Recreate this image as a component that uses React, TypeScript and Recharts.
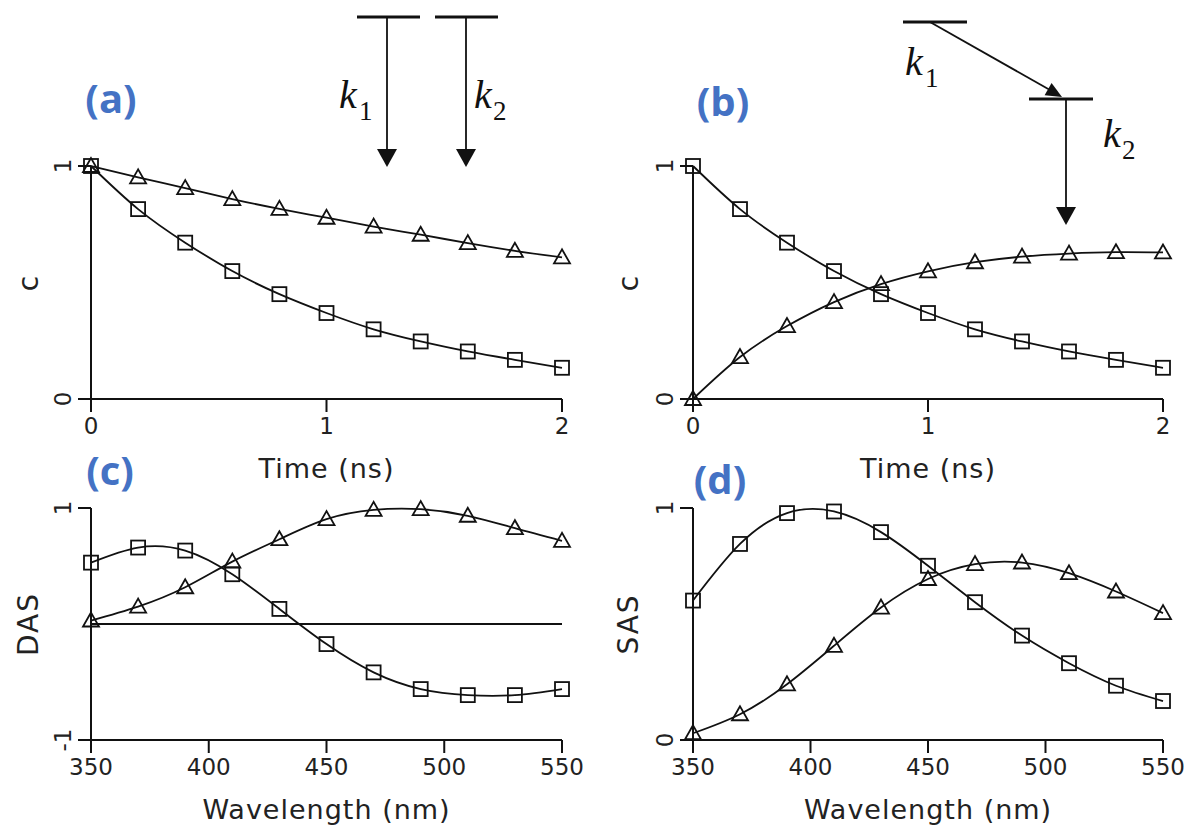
import { LineChart, Line, XAxis, YAxis, ReferenceLine } from "recharts";

// time axis (ns) for panels (a) and (b)
const times = [0, 0.2, 0.4, 0.6, 0.8, 1.0, 1.2, 1.4, 1.6, 1.8, 2.0];
// wavelength axis (nm) for panels (c) and (d)
const wavelengths = [350, 370, 390, 410, 430, 450, 470, 490, 510, 530, 550];

// (a) parallel decay concentrations
const aSquare = [1.0, 0.815, 0.671, 0.549, 0.45, 0.369, 0.299, 0.247, 0.204, 0.168, 0.134];
const aTriangle = [1.0, 0.951, 0.905, 0.858, 0.816, 0.778, 0.74, 0.705, 0.669, 0.636, 0.608];

// (b) sequential decay concentrations
const bSquare = [1.0, 0.815, 0.671, 0.549, 0.45, 0.369, 0.299, 0.247, 0.204, 0.168, 0.134];
const bTriangle = [0.0, 0.18, 0.313, 0.416, 0.493, 0.548, 0.587, 0.611, 0.624, 0.63, 0.629];

// (c) DAS
const cSquare = [0.529, 0.659, 0.633, 0.429, 0.13, -0.173, -0.417, -0.561, -0.613, -0.613, -0.561];
const cTriangle = [0.03, 0.15, 0.317, 0.538, 0.731, 0.904, 0.984, 0.99, 0.933, 0.826, 0.717];

// (d) SAS
const dSquare = [0.601, 0.845, 0.978, 0.985, 0.896, 0.751, 0.594, 0.45, 0.331, 0.234, 0.168];
const dTriangle = [0.029, 0.111, 0.24, 0.406, 0.571, 0.694, 0.758, 0.765, 0.719, 0.64, 0.547];

const timeTicks = [0, 1, 2];
const wlTicks = [350, 400, 450, 500, 550];

const INK = "#111";
const FONT = "'DejaVu Sans', sans-serif";
const BLUE = "#4472c4";

const dataA = times.map((x, i) => ({ x, sq: aSquare[i], tri: aTriangle[i] }));
const dataB = times.map((x, i) => ({ x, sq: bSquare[i], tri: bTriangle[i] }));
const dataC = wavelengths.map((x, i) => ({ x, sq: cSquare[i], tri: cTriangle[i] }));
const dataD = wavelengths.map((x, i) => ({ x, sq: dSquare[i], tri: dTriangle[i] }));

function SquareDot(props: any) {
  const { cx, cy, index } = props;
  if (cx == null || cy == null) return <g key={`s-${index}`} />;
  return (
    <rect key={`s-${index}`} x={cx - 7} y={cy - 7} width={14} height={14}
      fill="none" stroke={INK} strokeWidth={1.8} />
  );
}

function TriangleDot(props: any) {
  const { cx, cy, index } = props;
  if (cx == null || cy == null) return <g key={`t-${index}`} />;
  const pts = `${cx},${cy - 8} ${cx - 8},${cy + 6} ${cx + 8},${cy + 6}`;
  return <polygon key={`t-${index}`} points={pts} fill="none" stroke={INK} strokeWidth={1.8} />;
}

function RotatedTick(props: any) {
  const { x, y, payload } = props;
  return (
    <text x={x} y={y} transform={`rotate(-90 ${x} ${y})`} textAnchor="middle"
      dominantBaseline="central" fontFamily={FONT} fontSize={23} fill="#222">
      {payload.value}
    </text>
  );
}

const xTitle = (text: string) => (props: any) => {
  const vb = props.viewBox || {};
  return (
    <text x={vb.x + vb.width / 2} y={vb.y + 69} textAnchor="middle" dominantBaseline="central"
      fontFamily={FONT} fontSize={27} letterSpacing={1} fill="#222">
      {text}
    </text>
  );
};

const yTitle = (text: string) => (props: any) => {
  const vb = props.viewBox || {};
  const x = (vb.x || 0) + 28;
  const y = vb.y + vb.height / 2;
  return (
    <text x={x} y={y} transform={`rotate(-90 ${x} ${y})`} textAnchor="middle"
      dominantBaseline="central" fontFamily={FONT} fontSize={28} letterSpacing={2} fill="#222">
      {text}
    </text>
  );
};

type PanelProps = {
  left: number;
  top: number;
  width: number;
  height: number;
  margin: { top: number; right: number; bottom: number; left: number };
  yWidth: number;
  data: any[];
  xDomain: [number, number];
  xTicks: number[];
  yDomain: [number, number];
  yTicks: number[];
  xLabel: string;
  yLabel: string;
  zeroLine?: boolean;
};

function Panel(p: PanelProps) {
  return (
    <div style={{ position: "absolute", left: p.left, top: p.top }}>
      <LineChart width={p.width} height={p.height} data={p.data} margin={p.margin}>
        <XAxis dataKey="x" type="number" domain={p.xDomain} ticks={p.xTicks} height={80}
          axisLine={{ stroke: INK, strokeWidth: 2 }} tickLine={{ stroke: INK, strokeWidth: 2 }}
          tickSize={13} tickMargin={6}
          tick={{ fill: "#222", fontFamily: FONT, fontSize: 23 }}
          label={xTitle(p.xLabel)} />
        <YAxis type="number" domain={p.yDomain} ticks={p.yTicks} width={p.yWidth}
          axisLine={{ stroke: INK, strokeWidth: 2 }} tickLine={{ stroke: INK, strokeWidth: 2 }}
          tickSize={13} tickMargin={15} tick={<RotatedTick />}
          label={yTitle(p.yLabel)} />
        {p.zeroLine && <ReferenceLine y={0} stroke={INK} strokeWidth={1.8} />}
        <Line type="natural" dataKey="sq" stroke={INK} strokeWidth={1.8}
          dot={SquareDot} activeDot={false} isAnimationActive={false} />
        <Line type="natural" dataKey="tri" stroke={INK} strokeWidth={1.8}
          dot={TriangleDot} activeDot={false} isAnimationActive={false} />
      </LineChart>
    </div>
  );
}

function Annotations() {
  const label = { fontFamily: "'Open Sans', 'Noto Sans', sans-serif", fontWeight: 700, fontSize: 40, fill: BLUE };
  const kStyle = { fontFamily: "'Liberation Serif', serif", fontStyle: "italic" as const, fontSize: 40, fill: INK };
  const subStyle = { fontFamily: "'Liberation Serif', serif", fontSize: 27, fill: INK };
  return (
    <svg width={1187} height={834} style={{ position: "absolute", left: 0, top: 0, pointerEvents: "none" }}>
      <text x={111} y={97} textAnchor="middle" dominantBaseline="central" {...label}>(a)</text>
      <text x={723} y={100} textAnchor="middle" dominantBaseline="central" {...label}>(b)</text>
      <text x={110} y={469} textAnchor="middle" dominantBaseline="central" {...label}>(c)</text>
      <text x={720} y={478} textAnchor="middle" dominantBaseline="central" {...label}>(d)</text>

      {/* (a) parallel scheme */}
      <line x1={357} y1={17} x2={420} y2={17} stroke={INK} strokeWidth={3} />
      <line x1={435} y1={17} x2={498} y2={17} stroke={INK} strokeWidth={3} />
      <line x1={387} y1={17} x2={387} y2={152} stroke={INK} strokeWidth={1.8} />
      <polygon points="377,149 397,149 387,167" fill={INK} />
      <line x1={466} y1={17} x2={466} y2={152} stroke={INK} strokeWidth={1.8} />
      <polygon points="456,149 476,149 466,167" fill={INK} />
      <text x={339} y={108} {...kStyle}>k</text>
      <text x={359} y={120} {...subStyle}>1</text>
      <text x={474} y={108} {...kStyle}>k</text>
      <text x={493} y={120} {...subStyle}>2</text>

      {/* (b) sequential scheme */}
      <line x1={903} y1={22} x2={967} y2={22} stroke={INK} strokeWidth={3} />
      <line x1={930} y1={22} x2={1050} y2={90} stroke={INK} strokeWidth={1.8} />
      <polygon points="1062,97 1044.6,95.2 1051.6,83" fill={INK} />
      <line x1={1029} y1={99} x2={1093} y2={99} stroke={INK} strokeWidth={3} />
      <line x1={1066} y1={99} x2={1066} y2={210} stroke={INK} strokeWidth={1.8} />
      <polygon points="1056,207 1076,207 1066,225" fill={INK} />
      <text x={905} y={75} {...kStyle}>k</text>
      <text x={925} y={87} {...subStyle}>1</text>
      <text x={1103} y={147} {...kStyle}>k</text>
      <text x={1122} y={159} {...subStyle}>2</text>
    </svg>
  );
}

export default function App() {
  return (
    <div style={{ position: "absolute", left: 0, top: 0, width: 1187, height: 834, background: "#fff" }}>
      <Panel left={0} top={140} width={600} height={350}
        margin={{ top: 26, right: 38, bottom: 11, left: 0 }} yWidth={91}
        data={dataA} xDomain={[0, 2]} xTicks={timeTicks} yDomain={[0, 1]} yTicks={[0, 1]}
        xLabel="Time (ns)" yLabel="c" />
      <Panel left={600} top={140} width={587} height={350}
        margin={{ top: 26, right: 24, bottom: 11, left: 0 }} yWidth={93}
        data={dataB} xDomain={[0, 2]} xTicks={timeTicks} yDomain={[0, 1]} yTicks={[0, 1]}
        xLabel="Time (ns)" yLabel="c" />
      <Panel left={0} top={480} width={600} height={354}
        margin={{ top: 28, right: 38, bottom: 14, left: 0 }} yWidth={91}
        data={dataC} xDomain={[350, 550]} xTicks={wlTicks} yDomain={[-1, 1]} yTicks={[-1, 1]}
        xLabel="Wavelength (nm)" yLabel="DAS" zeroLine />
      <Panel left={600} top={480} width={587} height={354}
        margin={{ top: 28, right: 24, bottom: 14, left: 0 }} yWidth={93}
        data={dataD} xDomain={[350, 550]} xTicks={wlTicks} yDomain={[0, 1]} yTicks={[0, 1]}
        xLabel="Wavelength (nm)" yLabel="SAS" />
      <Annotations />
    </div>
  );
}
